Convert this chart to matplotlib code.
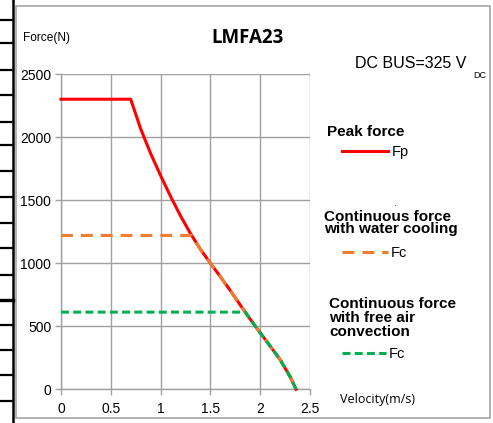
import matplotlib
matplotlib.use("Agg")
import matplotlib.pyplot as plt
from matplotlib.lines import Line2D
from matplotlib.patches import Rectangle

# ---- data ----
v_peak = [0.00, 0.70, 0.80, 0.90, 1.00, 1.10, 1.20, 1.30, 1.40, 1.50, 1.60, 1.70, 1.80, 1.90, 2.00, 2.10, 2.20, 2.30, 2.36]
f_peak = [2300, 2300, 2065, 1870, 1695, 1530, 1375, 1235, 1110, 1000, 893, 783, 668, 556, 448, 343, 235, 100, 0]

v_water = [0.00, 1.312, 1.40, 1.50, 1.60, 1.70, 1.80, 1.90, 2.00, 2.10, 2.20, 2.30, 2.36]
f_water = [1220, 1220, 1110, 1000, 893, 783, 668, 556, 448, 343, 235, 100, 0]

v_air = [0.00, 1.85, 1.90, 2.00, 2.10, 2.20, 2.30, 2.36]
f_air = [612, 612, 556, 448, 343, 235, 100, 0]

x_ticks = [0, 0.5, 1, 1.5, 2, 2.5]
x_tick_labels = ["0", "0.5", "1", "1.5", "2", "2.5"]
y_ticks = [0, 500, 1000, 1500, 2000, 2500]

RED = "#FF0000"
ORANGE = "#ED7D31"
GREEN = "#00B050"
GRID = "#A0A0A0"

W, H = 493, 423
fig = plt.figure(figsize=(W / 100, H / 100), dpi=100)

def fx(px):
    return px / W

def fy(py):
    return 1 - py / H

# decorations: outer frame and left table lines
fig.add_artist(Rectangle((fx(16), fy(418)), fx(490) - fx(16), fy(6) - fy(418),
                         transform=fig.transFigure, fill=False, edgecolor="#A6A6A6", lw=1.2))
fig.add_artist(Line2D([fx(13), fx(13)], [fy(0), fy(422)], transform=fig.transFigure,
                      color="black", lw=1.8))
for yy in [20, 43, 70, 95, 122, 145, 171, 197, 223, 248, 275, 300, 325, 350, 375, 401]:
    fig.add_artist(Line2D([fx(0), fx(13)], [fy(yy), fy(yy)], transform=fig.transFigure,
                          color="black", lw=2.4 if yy == 300 else 1.6))

ax = fig.add_axes([fx(61), fy(389.3), fx(310) - fx(61), fy(74) - fy(389.3)])
ax.set_xlim(0, 2.5)
ax.set_ylim(0, 2500)
for s in ["top", "right"]:
    ax.spines[s].set_visible(False)
for s in ["left", "bottom"]:
    ax.spines[s].set_color(GRID)
    ax.spines[s].set_linewidth(1.0)
ax.set_xticks(x_ticks)
ax.set_xticklabels(x_tick_labels)
ax.set_yticks(y_ticks)
ax.grid(True, color=GRID, lw=1.0)
ax.tick_params(axis="both", colors=GRID, labelcolor="black", length=4, width=1.0,
               labelsize=10, pad=3)
ax.tick_params(axis="x", pad=5)
for lbl in ax.get_xticklabels() + ax.get_yticklabels():
    lbl.set_family("Liberation Sans")

lw = 2.2
ax.plot(v_peak, f_peak, color=RED, lw=lw, zorder=3, clip_on=False)
ax.plot(v_water, f_water, color=ORANGE, lw=lw, ls=(0, (3.9, 2.6)), zorder=4, clip_on=False)
ax.plot(v_air, f_air, color=GREEN, lw=lw, ls=(0, (2.6, 1.4)), zorder=5, clip_on=False)

# texts
fig.text(fx(248), fy(38), "LMFA23", family="Open Sans", weight="bold", fontsize=13.5,
         ha="center", va="center")
fig.text(fx(23), fy(38), "Force(N)", family="Liberation Sans", fontsize=8.6,
         ha="left", va="center")
fig.text(fx(340), fy(399), "Velocity(m/s)", family="Open Sans", fontsize=9,
         ha="left", va="center")
fig.text(fx(355), fy(64), "DC BUS=325 V", family="Liberation Sans", fontsize=11.5,
         ha="left", va="center")
fig.text(fx(473), fy(76), "DC", family="Liberation Sans", fontsize=6.5,
         ha="left", va="center")

bold = dict(family="Liberation Sans", weight="bold", fontsize=11, ha="left", va="center")
normal = dict(family="Liberation Sans", fontsize=10.5, ha="left", va="center")

fig.text(fx(327), fy(132), "Peak force", **bold)
fig.add_artist(Line2D([fx(342), fx(388)], [fy(151), fy(151)], transform=fig.transFigure,
                      color=RED, lw=lw))
fig.text(fx(392), fy(152), "Fp", **normal)

fig.text(fx(393), fy(203), ".", family="Liberation Sans", fontsize=7, ha="left", va="center")
fig.text(fx(324), fy(217), "Continuous force", **bold)
fig.text(fx(324), fy(229.5), "with water cooling", **bold)
fig.add_artist(Line2D([fx(342), fx(388)], [fy(252), fy(252)], transform=fig.transFigure,
                      color=ORANGE, lw=lw, ls=(0, (3.9, 2.6))))
fig.text(fx(391), fy(253), "Fc", **normal)

fig.text(fx(329), fy(303.5), "Continuous force", **bold)
fig.text(fx(329), fy(317.5), "with free air", **bold)
fig.text(fx(329), fy(332), "convection", **bold)
fig.add_artist(Line2D([fx(342), fx(386)], [fy(353), fy(353)], transform=fig.transFigure,
                      color=GREEN, lw=lw, ls=(0, (2.6, 1.4))))
fig.text(fx(389), fy(354), "Fc", **normal)

fig.savefig("out.png", dpi=100)
